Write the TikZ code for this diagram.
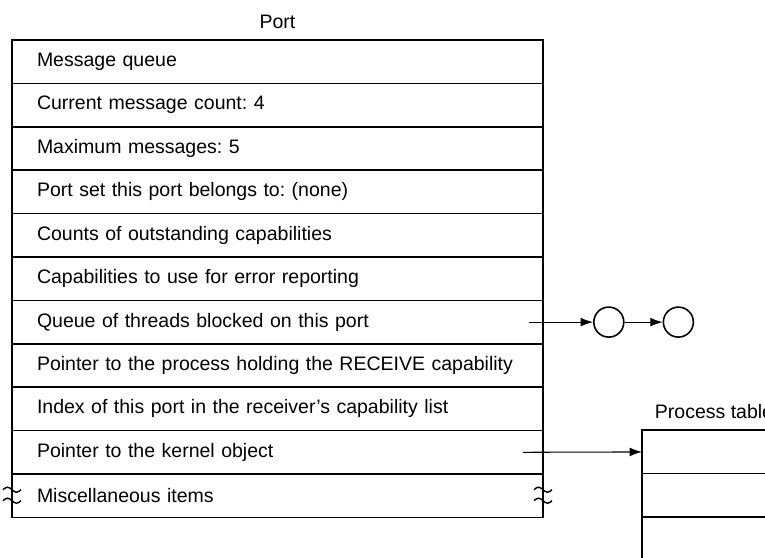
\documentclass[tikz,border=0pt]{standalone}
\usepackage{fontspec}
\setmainfont{Liberation Sans}
\usetikzlibrary{positioning, arrows.meta}

\begin{document}
\begin{tikzpicture}[->,>={Latex[length=7pt,width=5pt]},line width=0.6pt,
	field/.style={draw, -, line width=0.9pt, outer sep=0pt, inner xsep=0.5cm, inner ysep=0pt, text width=9.62cm, minimum height=0.868cm, align=left},
	slot/.style={draw, -, line width=0.9pt, outer sep=0pt, minimum width=2.88cm, minimum height=0.868cm},
	thread/.style={draw, -, circle, line width=0.9pt, inner sep=0pt, minimum size=0.6cm},
	brk/.style={-, line width=0.8pt}]
			\useasboundingbox (0,0) rectangle (15.3,-11.14);
			\clip (0,0) rectangle (15.3,-11.14);
			\fontsize{11.1}{13}\selectfont\frenchspacing

			% port record
			\node[field, anchor=north west] at (0.24, -0.80) (msgqueue) {Message queue};
			\node[field, below=0pt of msgqueue] (msgcount) {Current message count: 4};
			\node[field, below=0pt of msgcount] (maxmsg)   {Maximum messages: 5};
			\node[field, below=0pt of maxmsg]   (portset)  {Port set this port belongs to: (none)};
			\node[field, below=0pt of portset]  (counts)   {Counts of outstanding capabilities};
			\node[field, below=0pt of counts]   (errcaps)  {Capabilities to use for error reporting};
			\node[field, below=0pt of errcaps]  (threads)  {Queue of threads blocked on this port};
			\node[field, below=0pt of threads]  (holder)   {Pointer to the process holding the RECEIVE capability};
			\node[field, below=0pt of holder]   (index)    {Index of this port in the receiver’s capability list};
			\node[field, below=0pt of index]    (kernel)   {Pointer to the kernel object};
			\node[field, below=0pt of kernel]   (misc)     {Miscellaneous items};
			\node[above=0.08cm of msgqueue] (portlabel) {Port};

			% blocked threads
			\node[thread, right=1.0cm of threads] (thread1) {};
			\node[thread, right=0.76cm of thread1] (thread2) {};

			% process table
			\node[slot, anchor=north west] at (12.84, -8.60) (proc1) {};
			\node[slot, below=0pt of proc1] (proc2) {};
			\node[slot, below=0pt of proc2, minimum height=1.2cm] (proc3) {};
			\node[above=0.08cm of proc1] (proclabel) {Process table};

			\draw ([xshift=-0.28cm]threads.east) -- (thread1);
			\draw (thread1) -- (thread2);
			\draw ([xshift=-0.4cm]kernel.east) -- (proc1);

			% break marks
			\draw[brk]
					([xshift=-0.18cm, yshift=+0.12cm]misc.east) sin ++(0.09,0.05) cos ++(0.09,-0.05) sin ++(0.09,-0.05) cos ++(0.09,0.05)
					([xshift=-0.18cm, yshift=-0.10cm]misc.east) sin ++(0.09,0.05) cos ++(0.09,-0.05) sin ++(0.09,-0.05) cos ++(0.09,0.05)
					([xshift=-0.18cm, yshift=+0.12cm]misc.west) sin ++(0.09,0.05) cos ++(0.09,-0.05) sin ++(0.09,-0.05) cos ++(0.09,0.05)
					([xshift=-0.18cm, yshift=-0.10cm]misc.west) sin ++(0.09,0.05) cos ++(0.09,-0.05) sin ++(0.09,-0.05) cos ++(0.09,0.05)
					;

		\end{tikzpicture}
\end{document}
